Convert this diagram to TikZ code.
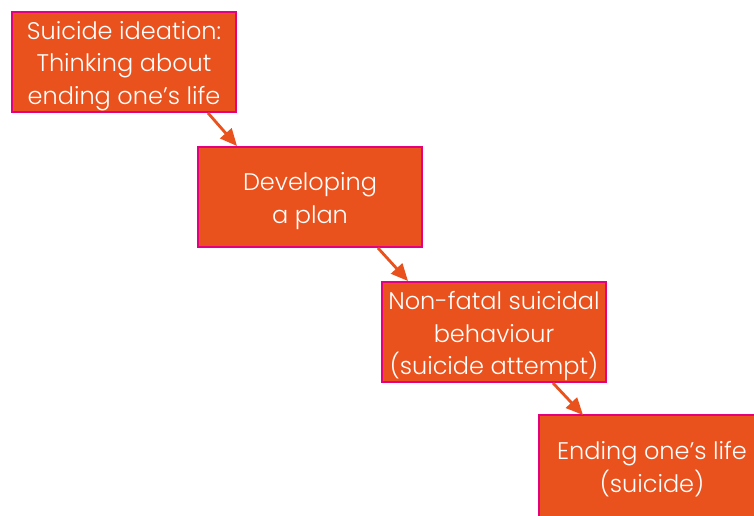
\documentclass[tikz,border=0pt]{standalone}
\usepackage{fontspec}
\setmainfont{Poppins}[UprightFont=* Light]
\usetikzlibrary{arrows.meta}
\definecolor{stepfill}{HTML}{E9511D}
\definecolor{stepedge}{HTML}{E5007D}
\definecolor{arrowcol}{HTML}{E9511D}
% lines of a step, set a little below the optical centre of the box
\newcommand\steptext[1]{\raisebox{-3.5pt}[\height][\depth]{\begin{tabular}{@{}c@{}}#1\end{tabular}}}
\tikzset{
  stepbox/.style={draw=stepedge, line width=2pt, fill=stepfill,
    minimum width=224pt, minimum height=100pt, inner sep=0pt,
    text=white, align=center,
    font=\fontsize{24}{32.5}\selectfont},
  stepedge/.style={draw=stepedge, line width=2pt},
  flow/.style={draw=arrowcol, line width=2.8pt,
    -{Triangle[length=17pt,width=15pt]}}
}
\begin{document}
\begin{tikzpicture}[x=1pt,y=1pt]
  \clip (0,0) rectangle (754,515);
  \node[stepbox] (b1) at (124,453) {\steptext{Suicide ideation:\\Thinking about\\ending one’s life}};
  \node[stepbox] (b2) at (310,318) {\steptext{Developing\\a plan}};
  \node[stepbox] (b3) at (494,183) {\steptext{Non-fatal suicidal\\behaviour\\(suicide attempt)}};
  % the last step runs off the page: only its left and top edges show
  \node[stepbox, draw=none] (b4) at (652,49) {\steptext{Ending one’s life\\(suicide)}};
  \draw[stepedge] (b4.south west) -- (b4.north west) -- (b4.north east);
  \draw[flow] ([xshift=-29pt]b1.south east) -- ([xshift=40pt]b2.north west);
  \draw[flow] ([xshift=-45pt]b2.south east) -- ([xshift=27pt]b3.north west);
  \draw[flow] ([xshift=-54pt]b3.south east) -- ([xshift=44pt]b4.north west);
\end{tikzpicture}
\end{document}
